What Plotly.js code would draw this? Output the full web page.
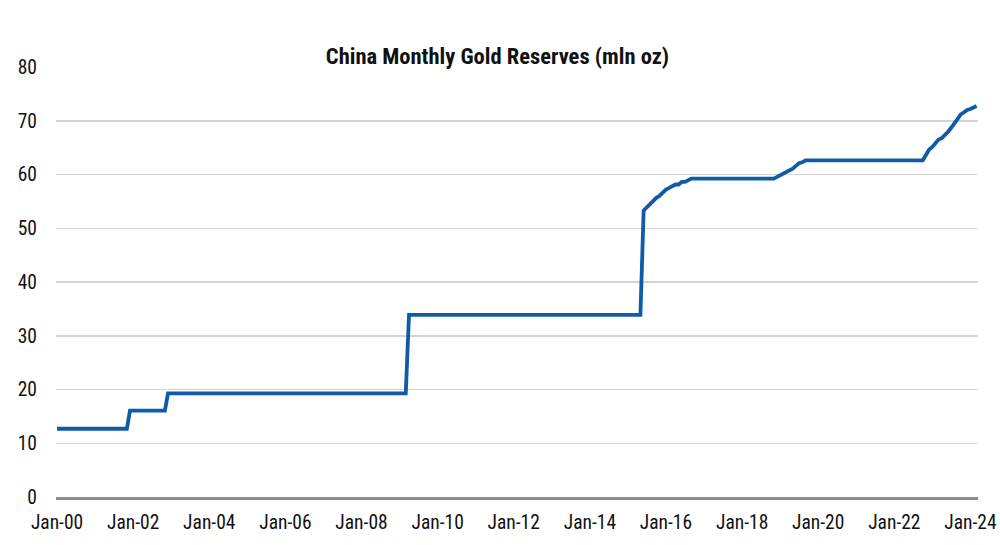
<!DOCTYPE html>
<html>
<head>
<meta charset="utf-8">
<script src="https://cdn.plot.ly/plotly-3.0.1.min.js"></script>
<style>html,body{margin:0;padding:0;background:#fff;}#chart{width:1000px;height:545px;}</style>
</head>
<body>
<div id="chart"></div>
<script>
// Month-end readings (mln oz); flat stretches are given by their first and last month
const months = [
  '2000-01-01','2001-11-01','2001-12-01','2002-11-01','2002-12-01',
  '2009-03-01','2009-04-01','2015-05-01','2015-06-01','2015-07-01',
  '2015-08-01','2015-09-01','2015-10-01','2015-11-01','2015-12-01',
  '2016-01-01','2016-02-01','2016-03-01','2016-04-01','2016-05-01',
  '2016-06-01','2016-07-01','2016-08-01','2016-09-01','2018-11-01',
  '2018-12-01','2019-01-01','2019-02-01','2019-03-01','2019-04-01',
  '2019-05-01','2019-06-01','2019-07-01','2019-08-01','2019-09-01',
  '2022-10-01','2022-11-01','2022-12-01','2023-01-01','2023-02-01',
  '2023-03-01','2023-04-01','2023-05-01','2023-06-01','2023-07-01',
  '2023-08-01','2023-09-01','2023-10-01','2023-11-01','2023-12-01',
  '2024-01-01','2024-02-01','2024-03-01'
];
const reserves = [
  12.70, 12.70, 16.08, 16.08, 19.29,
  19.29, 33.89, 33.89, 53.31, 53.93,
  54.45, 55.01, 55.66, 56.05, 56.66,
  57.18, 57.51, 57.85, 58.14, 58.14,
  58.62, 58.62, 58.90, 59.24, 59.24,
  59.56, 59.94, 60.26, 60.62, 60.75,
  61.10, 61.61, 62.10, 62.26, 62.64,
  62.64, 63.67, 64.64, 65.12, 65.92,
  66.50, 66.76, 67.27, 67.95, 68.69,
  69.62, 70.46, 71.20, 71.58, 72.02,
  72.19, 72.58, 72.74
];
const titleText = 'China Monthly Gold Reserves (mln oz)';
const yTicks = [0, 10, 20, 30, 40, 50, 60, 70, 80];

const fontFam = '"Roboto Condensed", Roboto, "Liberation Sans", sans-serif';

Plotly.newPlot('chart', [{
  x: months,
  y: reserves,
  type: 'scatter',
  mode: 'lines',
  line: {color: '#0f5ba7', width: 3.8},
  hoverinfo: 'x+y'
}], {
  width: 1000,
  height: 545,
  paper_bgcolor: '#fff',
  plot_bgcolor: '#fff',
  margin: {l: 56, r: 22, t: 67, b: 48},
  showlegend: false,
  title: {
    text: '<b>' + titleText + '</b>',
    font: {family: fontFam, size: 22.5, color: '#111'},
    xref: 'container', yref: 'container',
    x: 0.4975, y: 1 - 56/545, xanchor: 'center', yanchor: 'middle'
  },
  xaxis: {
    type: 'date',
    range: ['1999-12-22', '2024-03-14'],
    tickmode: 'linear',
    tick0: '2000-01-01',
    dtick: 'M24',
    tickformat: '%b-%y',
    showgrid: false,
    zeroline: false,
    showline: true,
    linecolor: '#8c8c8c',
    linewidth: 3,
    ticks: '',
    ticklabelstandoff: 6,
    tickfont: {family: fontFam, size: 19.5, color: '#111'}
  },
  yaxis: {
    range: [0, 80],
    tickmode: 'array',
    tickvals: yTicks,
    showgrid: true,
    gridcolor: '#d4d4d4',
    gridwidth: 1.5,
    zeroline: false,
    showline: false,
    ticks: '',
    ticklabelstandoff: 18,
    tickfont: {family: fontFam, size: 19.5, color: '#111'}
  }
}, {displayModeBar: false, staticPlot: true});
</script>
</body>
</html>
